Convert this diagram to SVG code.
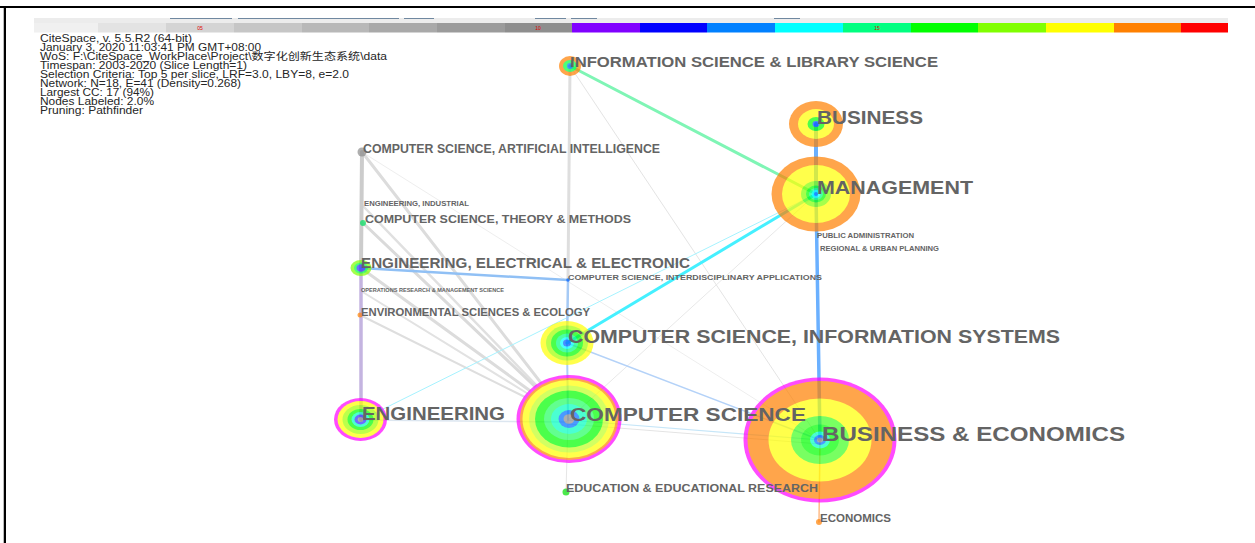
<svg xmlns="http://www.w3.org/2000/svg" width="1255" height="543" viewBox="0 0 1255 543">
<style>
.lbl{font-family:"Liberation Sans",Arial,sans-serif;font-weight:bold;fill:#646464}
.info{font-family:"Liberation Sans","Noto Sans CJK SC",sans-serif;font-size:10px;fill:#262626}
.yr{font-family:"Liberation Sans",Arial,sans-serif;font-size:5px;fill:#e00000;text-anchor:middle}
.node{opacity:0.7}
.tick{stroke:#7088a0;stroke-width:1}
#edges line{fill:none;stroke-linecap:round}
</style>
<rect x="0" y="0" width="1255" height="543" fill="#ffffff"/>
<line x1="0" y1="7" x2="1255" y2="7" stroke="#000" stroke-width="2"/>
<line x1="5" y1="7" x2="5" y2="543" stroke="#000" stroke-width="2"/>
<line x1="3.5" y1="8" x2="3.5" y2="543" stroke="#bbb" stroke-width="1"/>

<g id="legend">
<rect x="34" y="18" width="1194" height="5" fill="#ececec"/>
<line class="tick" x1="170" y1="18.5" x2="232" y2="18.5"/>
<line class="tick" x1="238" y1="18.5" x2="399" y2="18.5"/>
<line class="tick" x1="404" y1="18.5" x2="434" y2="18.5"/>
<line class="tick" x1="535" y1="18.5" x2="566" y2="18.5"/>
<line class="tick" x1="571" y1="18.5" x2="597" y2="18.5"/>
<line class="tick" x1="774" y1="18.5" x2="800" y2="18.5"/>
<rect x="34" y="23" width="64" height="9.5" fill="#f0f0f0"/>
<rect x="98" y="23" width="68" height="9.5" fill="#e3e3e3"/>
<rect x="166" y="23" width="68" height="9.5" fill="#d4d4d4"/>
<rect x="234" y="23" width="68" height="9.5" fill="#c6c6c6"/>
<rect x="302" y="23" width="67" height="9.5" fill="#b8b8b8"/>
<rect x="369" y="23" width="68" height="9.5" fill="#a9a9a9"/>
<rect x="437" y="23" width="68" height="9.5" fill="#9b9b9b"/>
<rect x="505" y="23" width="67" height="9.5" fill="#8e8e8e"/>
<rect x="572" y="23" width="68" height="9.5" fill="#8000ff"/>
<rect x="640" y="23" width="67" height="9.5" fill="#0000ff"/>
<rect x="707" y="23" width="68" height="9.5" fill="#0080ff"/>
<rect x="775" y="23" width="68" height="9.5" fill="#00ffff"/>
<rect x="843" y="23" width="68" height="9.5" fill="#00ff80"/>
<rect x="911" y="23" width="67" height="9.5" fill="#00ff00"/>
<rect x="978" y="23" width="68" height="9.5" fill="#80ff00"/>
<rect x="1046" y="23" width="68" height="9.5" fill="#ffff00"/>
<rect x="1114" y="23" width="67" height="9.5" fill="#ff8000"/>
<rect x="1181" y="23" width="47" height="9.5" fill="#ff0000"/>
<text class="yr" x="200" y="30">05</text>
<text class="yr" x="538" y="30">10</text>
<text class="yr" x="877" y="30">15</text>
</g>

<g id="info">
<text class="info" x="40" y="41.7" textLength="152" lengthAdjust="spacingAndGlyphs">CiteSpace, v. 5.5.R2 (64-bit)</text>
<text class="info" x="40" y="50.7" textLength="221" lengthAdjust="spacingAndGlyphs">January 3, 2020 11:03:41 PM GMT+08:00</text>
<text class="info" x="40" y="59.7" textLength="347" lengthAdjust="spacingAndGlyphs">WoS: F:\CiteSpace_WorkPlace\Project\数字化创新生态系统\data</text>
<text class="info" x="40" y="68.7" textLength="207" lengthAdjust="spacingAndGlyphs">Timespan: 2003-2020 (Slice Length=1)</text>
<text class="info" x="40" y="77.7" textLength="309" lengthAdjust="spacingAndGlyphs">Selection Criteria: Top 5 per slice, LRF=3.0, LBY=8, e=2.0</text>
<text class="info" x="40" y="86.7" textLength="201" lengthAdjust="spacingAndGlyphs">Network: N=18, E=41 (Density=0.268)</text>
<text class="info" x="40" y="95.7" textLength="114" lengthAdjust="spacingAndGlyphs">Largest CC: 17 (94%)</text>
<text class="info" x="40" y="104.7" textLength="114" lengthAdjust="spacingAndGlyphs">Nodes Labeled: 2.0%</text>
<text class="info" x="40" y="113.7" textLength="103" lengthAdjust="spacingAndGlyphs">Pruning: Pathfinder</text>
</g>

<g id="edges">
<line x1="362" y1="152" x2="540.4" y2="382.1" stroke="#dcdcdc" stroke-width="3"/>
<line x1="362" y1="205" x2="535.9" y2="384.8" stroke="#e0e0e0" stroke-width="2.5"/>
<line x1="363" y1="223" x2="534.3" y2="386" stroke="#dadada" stroke-width="3"/>
<line x1="361" y1="268" x2="529.3" y2="390.2" stroke="#dcdcdc" stroke-width="3"/>
<line x1="361" y1="291" x2="526.7" y2="393" stroke="#e2e2e2" stroke-width="2"/>
<line x1="360" y1="315" x2="523.9" y2="396.5" stroke="#dedede" stroke-width="2"/>
<line x1="362" y1="152" x2="820" y2="440" stroke="#eeeeee" stroke-width="1"/>
<line x1="570" y1="66" x2="820" y2="440" stroke="#e4e4e4" stroke-width="1"/>
<line x1="816" y1="194" x2="568" y2="420" stroke="#e8e8e8" stroke-width="1"/>
<line x1="816" y1="194" x2="361" y2="420" stroke="#a6f3ff" stroke-width="1"/>
<line x1="567" y1="343" x2="820" y2="440" stroke="#b4d2f8" stroke-width="1.5"/>
<line x1="568" y1="420" x2="820" y2="440" stroke="#c6e6f8" stroke-width="1.2"/>
<line x1="568" y1="424" x2="820" y2="444" stroke="#e4e4e4" stroke-width="1"/>
<line x1="361" y1="420" x2="568" y2="422" stroke="#dce6f0" stroke-width="1.5"/>
<line x1="568" y1="420" x2="566" y2="492" stroke="#e6e6e6" stroke-width="1"/>
<line x1="362" y1="152" x2="361" y2="268" stroke="#cccccc" stroke-width="4"/>
<line x1="361" y1="268" x2="361" y2="420" stroke="#c4b4e0" stroke-width="3.5"/>
<line x1="570" y1="66" x2="568" y2="280" stroke="#dedede" stroke-width="3"/>
<line x1="568" y1="280" x2="567" y2="343" stroke="#a6caf5" stroke-width="2.5"/>
<line x1="567" y1="343" x2="568" y2="420" stroke="#acd0f8" stroke-width="2"/>
<line x1="361" y1="268" x2="568" y2="280" stroke="#90c0f5" stroke-width="2.5"/>
<line x1="570" y1="66" x2="816" y2="194" stroke="#7ff5b5" stroke-width="3"/>
<line x1="816" y1="194" x2="567" y2="343" stroke="#45f0ff" stroke-width="3"/>
<line x1="816" y1="124" x2="816" y2="194" stroke="#6ab0ff" stroke-width="4"/>
<line x1="816" y1="194" x2="820" y2="440" stroke="#6ab0ff" stroke-width="3.5"/>
<line x1="820" y1="440" x2="819" y2="522" stroke="#ffbc88" stroke-width="1.5"/>
</g>

<g id="n-info-sci" class="node">
<ellipse cx="570" cy="66" rx="11" ry="10" fill="#ff8000"/>
<ellipse cx="570" cy="66" rx="7" ry="6" fill="#00ff40"/>
<ellipse cx="570" cy="66" rx="3" ry="3" fill="#0070ff"/>
</g>
<g id="n-business" class="node">
<ellipse cx="816" cy="124" rx="27" ry="23" fill="#ff8000"/>
<ellipse cx="816" cy="124" rx="18" ry="15" fill="#ffff00"/>
<ellipse cx="816" cy="124" rx="8.5" ry="7" fill="#00ff00"/>
<ellipse cx="816" cy="124" rx="3.5" ry="3" fill="#0050ff"/>
</g>
<g id="n-management" class="node">
<ellipse cx="816" cy="194" rx="44.5" ry="37.5" fill="#ff8000"/>
<ellipse cx="816" cy="194" rx="34" ry="29" fill="#ffff00"/>
<ellipse cx="816" cy="194" rx="15" ry="13" fill="#80ff00"/>
<ellipse cx="816" cy="194" rx="10" ry="8.5" fill="#00ff00"/>
<ellipse cx="816" cy="194" rx="7" ry="6" fill="#00ff80"/>
<ellipse cx="816" cy="194" rx="4.5" ry="4" fill="#00ffff"/>
<ellipse cx="816" cy="194" rx="2" ry="2" fill="#0080ff"/>
</g>
<g id="n-cs-ai" class="node">
<circle cx="362" cy="152" r="4.5" fill="#8c8c8c"/>
</g>
<g id="n-cs-theory" class="node">
<circle cx="363" cy="223" r="3" fill="#00e060"/>
</g>
<g id="n-ee" class="node">
<ellipse cx="361" cy="268" rx="10.5" ry="8" fill="#80ff00"/>
<ellipse cx="361" cy="268" rx="7" ry="5.5" fill="#00ff40"/>
<ellipse cx="361" cy="268" rx="4.5" ry="3.8" fill="#3030ff"/>
</g>
<g id="n-cs-interdisc" class="node">
<circle cx="568" cy="280" r="1.8" fill="#0060ff"/>
</g>
<g id="n-env" class="node">
<circle cx="360" cy="315" r="2.5" fill="#ff8000"/>
</g>
<g id="n-cs-is" class="node">
<ellipse cx="567" cy="343" rx="26.5" ry="22" fill="#ffff00"/>
<ellipse cx="567" cy="343" rx="21" ry="17.5" fill="#a0ff00"/>
<ellipse cx="567" cy="343" rx="16" ry="13.5" fill="#00ff00"/>
<ellipse cx="567" cy="343" rx="11" ry="9.5" fill="#00ff80"/>
<ellipse cx="567" cy="343" rx="7" ry="6" fill="#00ffff"/>
<ellipse cx="567" cy="343" rx="4" ry="3.5" fill="#0060ff"/>
</g>
<g id="n-engineering" class="node">
<ellipse cx="360.5" cy="419.5" rx="26.5" ry="21.5" fill="#ff00ff"/>
<ellipse cx="360.5" cy="419.5" rx="23" ry="18.5" fill="#ffff00"/>
<ellipse cx="360.5" cy="419.5" rx="18" ry="14.5" fill="#a0ff00"/>
<ellipse cx="360.5" cy="419.5" rx="13" ry="10.5" fill="#00ff00"/>
<ellipse cx="360.5" cy="419.5" rx="9" ry="7.5" fill="#00ffc0"/>
<ellipse cx="360.5" cy="419.5" rx="6" ry="5" fill="#3030ff"/>
<ellipse cx="360.5" cy="419.5" rx="2.8" ry="2.5" fill="#8c8c8c"/>
</g>
<g id="n-computer-science" class="node">
<ellipse cx="569" cy="419" rx="52.5" ry="44" fill="#ff00ff"/>
<ellipse cx="569" cy="419" rx="49" ry="41" fill="#ff8000"/>
<ellipse cx="569" cy="419" rx="46.5" ry="39" fill="#ffff00"/>
<ellipse cx="569" cy="419" rx="40" ry="33.5" fill="#c0ff20"/>
<ellipse cx="569" cy="419" rx="34" ry="28.5" fill="#00ff00"/>
<ellipse cx="569" cy="419" rx="25" ry="21" fill="#20ff60"/>
<ellipse cx="569" cy="419" rx="18" ry="15" fill="#00ffc0"/>
<ellipse cx="569" cy="419" rx="10.5" ry="9" fill="#0070ff"/>
<ellipse cx="569" cy="419" rx="5.5" ry="4.8" fill="#8c8c8c"/>
</g>
<g id="n-business-economics" class="node">
<ellipse cx="820" cy="440" rx="76.5" ry="62.5" fill="#ff00ff"/>
<ellipse cx="820" cy="440" rx="72.5" ry="59" fill="#ff8000"/>
<ellipse cx="820" cy="440" rx="51.5" ry="41.5" fill="#ffff00"/>
<ellipse cx="820" cy="440" rx="29" ry="24" fill="#40ff20"/>
<ellipse cx="820" cy="440" rx="19" ry="15.5" fill="#00ff00"/>
<ellipse cx="820" cy="440" rx="10" ry="8.5" fill="#00ffc0"/>
<ellipse cx="820" cy="440" rx="6" ry="5" fill="#0070ff"/>
<ellipse cx="820" cy="440" rx="3" ry="2.5" fill="#8c8c8c"/>
</g>
<g id="n-education" class="node">
<circle cx="566" cy="492" r="3.5" fill="#00e000"/>
</g>
<g id="n-economics" class="node">
<circle cx="819" cy="522" r="3" fill="#ff8000"/>
</g>

<g id="labels">
<text class="lbl" x="570" y="66.5" font-size="14.5" textLength="368" lengthAdjust="spacingAndGlyphs">INFORMATION SCIENCE &amp; LIBRARY SCIENCE</text>
<text class="lbl" x="817" y="123.5" font-size="18" textLength="106" lengthAdjust="spacingAndGlyphs">BUSINESS</text>
<text class="lbl" x="817" y="194" font-size="19" textLength="156" lengthAdjust="spacingAndGlyphs">MANAGEMENT</text>
<text class="lbl" x="817" y="238" font-size="7" textLength="97" lengthAdjust="spacingAndGlyphs">PUBLIC ADMINISTRATION</text>
<text class="lbl" x="820" y="251" font-size="7" textLength="119" lengthAdjust="spacingAndGlyphs">REGIONAL &amp; URBAN PLANNING</text>
<text class="lbl" x="363" y="153" font-size="12.5" textLength="297" lengthAdjust="spacingAndGlyphs">COMPUTER SCIENCE, ARTIFICIAL INTELLIGENCE</text>
<text class="lbl" x="364" y="205.5" font-size="7" textLength="105" lengthAdjust="spacingAndGlyphs">ENGINEERING, INDUSTRIAL</text>
<text class="lbl" x="365" y="223" font-size="11.5" textLength="266" lengthAdjust="spacingAndGlyphs">COMPUTER SCIENCE, THEORY &amp; METHODS</text>
<text class="lbl" x="361" y="268" font-size="14" textLength="329" lengthAdjust="spacingAndGlyphs">ENGINEERING, ELECTRICAL &amp; ELECTRONIC</text>
<text class="lbl" x="568" y="280" font-size="8" textLength="254" lengthAdjust="spacingAndGlyphs">COMPUTER SCIENCE, INTERDISCIPLINARY APPLICATIONS</text>
<text class="lbl" x="361" y="291.5" font-size="5" textLength="143" lengthAdjust="spacingAndGlyphs">OPERATIONS RESEARCH &amp; MANAGEMENT SCIENCE</text>
<text class="lbl" x="361" y="315.5" font-size="10.5" textLength="229" lengthAdjust="spacingAndGlyphs">ENVIRONMENTAL SCIENCES &amp; ECOLOGY</text>
<text class="lbl" x="568" y="343" font-size="17.5" textLength="492" lengthAdjust="spacingAndGlyphs">COMPUTER SCIENCE, INFORMATION SYSTEMS</text>
<text class="lbl" x="362" y="420" font-size="18" textLength="143" lengthAdjust="spacingAndGlyphs">ENGINEERING</text>
<text class="lbl" x="570" y="420.5" font-size="19" textLength="236" lengthAdjust="spacingAndGlyphs">COMPUTER SCIENCE</text>
<text class="lbl" x="822" y="440.5" font-size="19.5" textLength="303" lengthAdjust="spacingAndGlyphs">BUSINESS &amp; ECONOMICS</text>
<text class="lbl" x="566" y="492" font-size="11" textLength="252" lengthAdjust="spacingAndGlyphs">EDUCATION &amp; EDUCATIONAL RESEARCH</text>
<text class="lbl" x="820" y="522" font-size="10.5" textLength="71" lengthAdjust="spacingAndGlyphs">ECONOMICS</text>
</g>
</svg>
